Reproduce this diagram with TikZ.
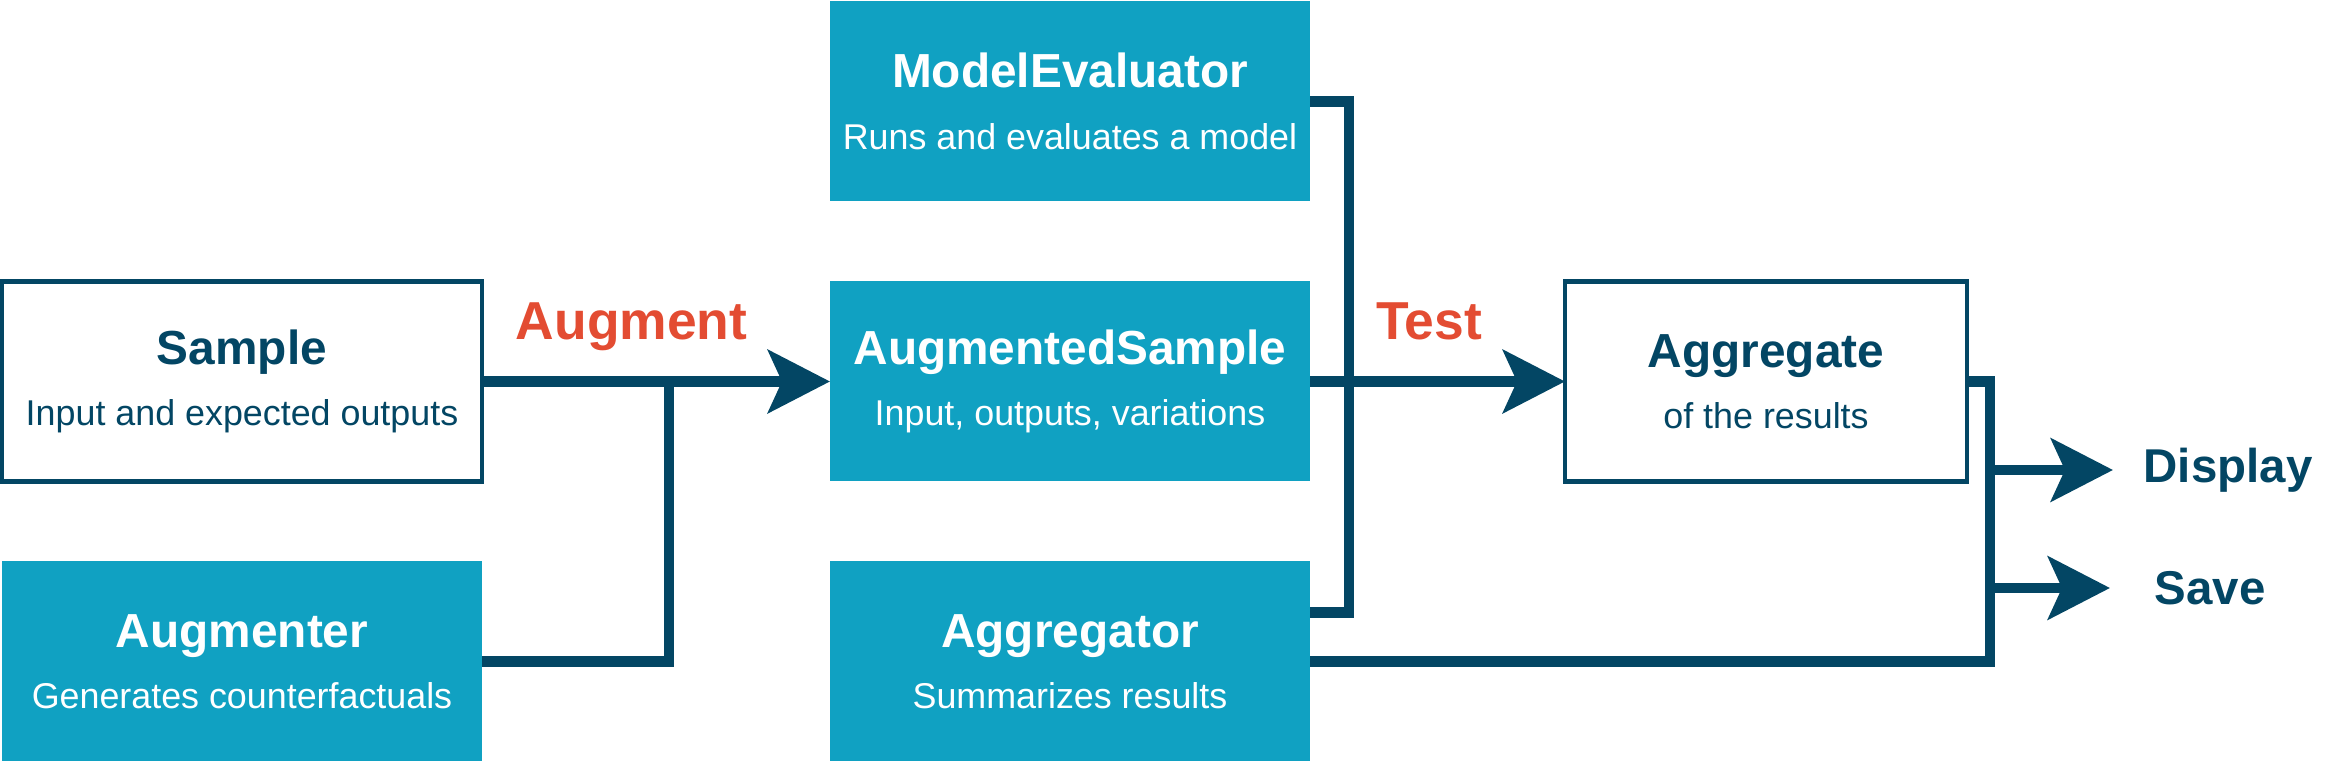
\documentclass[tikz,border=0pt]{standalone}
\usepackage{fontspec}
\setmainfont{Liberation Sans}
\usetikzlibrary{positioning, arrows.meta}

\definecolor{navy}{RGB}{3,70,100}
\definecolor{boxteal}{RGB}{16,161,194}
\definecolor{accent}{RGB}{227,76,50}

\newcommand{\boxtitle}[1]{{\fontsize{13.6pt}{17.5pt}\selectfont\bfseries #1}}

\begin{document}
\begin{tikzpicture}[
  node distance=0.8cm,
  box/.style={align=center, minimum width=4.8cm, minimum height=2cm, inner sep=0pt, outer sep=0pt, font=\fontsize{10.2pt}{17.5pt}\selectfont},
  tealbox/.style={box, fill=boxteal, text=white},
  plainbox/.style={box, draw=navy, line width=1.2pt, fill=white, text=navy},
  wire/.style={draw=navy, line width=3pt},
  flow/.style={wire, -{Stealth[length=0.62cm, width=0.63cm, inset=0.14cm]}},
  flowlabel/.style={font=\fontsize{15.2pt}{18pt}\selectfont\bfseries, text=accent, inner sep=0pt, anchor=base, yshift=0.42cm},
  outlabel/.style={font=\fontsize{13.5pt}{16pt}\selectfont\bfseries, text=navy, inner sep=0pt, anchor=west}
]
\useasboundingbox (0,0) rectangle (23.52,7.68);

\node[tealbox] (AugSample) at (10.70,3.865) {\boxtitle{AugmentedSample}\\Input, outputs, variations};
\node[tealbox, above=of AugSample] (ModelEval) {\boxtitle{ModelEvaluator}\\Runs and evaluates a model};
\node[tealbox, below=of AugSample] (Aggregator) {\boxtitle{Aggregator}\\Summarizes results};
\node[plainbox, left=3.48cm of AugSample] (Sample) {\boxtitle{Sample}\\Input and expected outputs};
\node[tealbox, below=of Sample] (Augmenter) {\boxtitle{Augmenter}\\Generates counterfactuals};
\node[plainbox, right=2.55cm of AugSample, minimum width=4.02cm] (Aggregate) {\boxtitle{Aggregate}\\of the results};
\node[outlabel] (Display) at (21.43,2.98) {Display};
\node[outlabel] (Save) at (21.54,1.80) {Save};

% augment step
\draw[flow] (Sample) -- node[flowlabel, pos=0.43] {Augment} (AugSample);
\draw[wire] (Augmenter) -| ([xshift=1.87cm]Sample.east);

% test step
\draw[flow] (AugSample) -- node[flowlabel, pos=0.467] {Test} (Aggregate);
\coordinate (evalin) at ([yshift=-0.51cm]Aggregator.north east);
\draw[wire] (ModelEval) -| ([xshift=0.39cm]evalin) -- (evalin);

% outputs
\coordinate[right=0.23cm of Aggregate.east] (bus);
\draw[wire] (Aggregate) -- (bus) |- (Aggregator);
\draw[flow] (bus |- Display.west) -- ([xshift=-0.30cm]Display.west);
\draw[flow] (bus |- Save.west) -- ([xshift=-0.44cm]Save.west);
\end{tikzpicture}
\end{document}
